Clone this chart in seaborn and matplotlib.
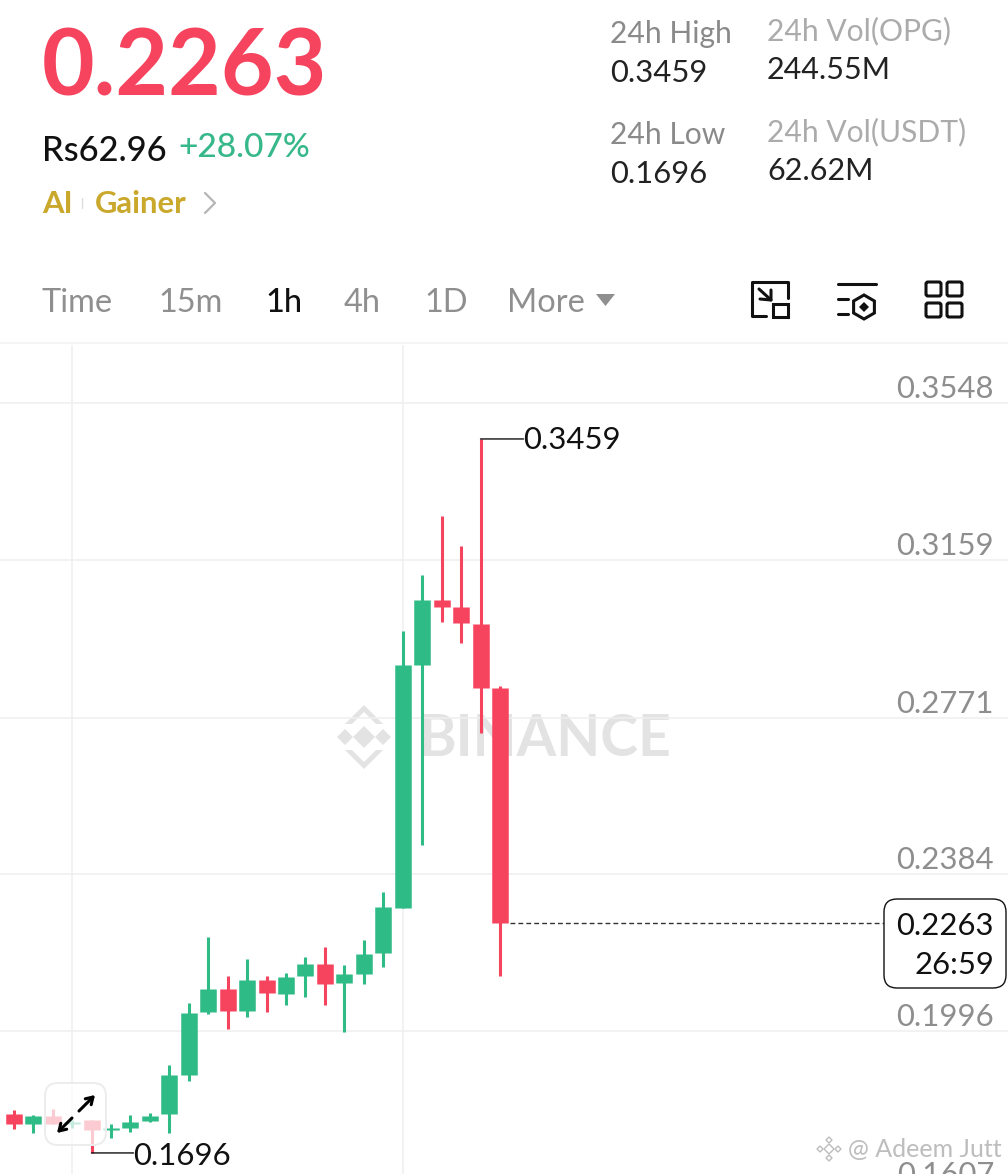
# -*- coding: utf-8 -*-
"""Velas de 1h OPG/USDT, captura de la app de Binance."""
import numpy as np
import pandas as pd
import matplotlib
matplotlib.use("Agg")
import matplotlib.pyplot as plt
from matplotlib.patches import FancyBboxPatch, Polygon, Rectangle
import seaborn as sns

# ======================= DATOS =======================
opens = [.1777, .1792, .1767, .1788, .1767, .1777, .1752, .1757, .1775, .1792, .1888, .2044, .2101,
         .2046, .2123, .2088, .2133, .2162, .2115, .2138, .2189, .2301, .2901, .3061, .3044, .3002, .2844]
closes = [.1792, .1767, .1788, .1767, .1773, .1752, .1757, .1773, .1788, .1888, .2041, .2101, .2046,
          .2123, .2091, .2130, .2162, .2113, .2138, .2187, .2303, .2901, .3061, .3044, .3005, .2844, .2263]
highs = [.1797, .1802, .1789, .1804, .1777, .1777, .1767, .1789, .1794, .1913, .2066, .2229, .2133,
         .2175, .2133, .2140, .2180, .2204, .2160, .2222, .2340, .2985, .3123, .3269, .3195, .3459, .2849]
lows = [.1772, .1755, .1745, .1767, .1757, .1696, .1733, .1747, .1772, .1745, .1873, .2039, .2002,
        .2031, .2044, .2061, .2081, .2061, .1994, .2113, .2155, .2301, .2456, .3007, .2955, .2733, .2133]
price_ticks = [0.3548, 0.3159, 0.2771, 0.2384, 0.1996, 0.1607]
time_ticks = [4, 21]
last_price = 0.2263
day_high = 0.3459
day_low = 0.1696

GREEN = "#2FBB86"
RED = "#F6435E"
GRID = "#EFEFEF"
W, H = 1008, 1174
FONT = "Lato"

sns.set_theme(style="white")
plt.rcParams["font.family"] = [FONT, "DejaVu Sans"]

fig = plt.figure(figsize=(W / 100, H / 100), dpi=100)

# capa de fondo (marca de agua) y capa superior, ambas en pixeles de la captura
bg = fig.add_axes([0, 0, 1, 1], zorder=0)
top = fig.add_axes([0, 0, 1, 1], zorder=2)
for a in (bg, top):
    a.set_xlim(0, W)
    a.set_ylim(H, 0)
    a.axis("off")
top.patch.set_alpha(0)

# zona del grafico: de y=345 a y=1174
ax = fig.add_axes([0, 0, 1, (H - 345) / H], zorder=1)
ax.patch.set_alpha(0)


def ui(x, y, s, size, color="#111111", weight="normal", ha="left", a=top):
    return a.text(x, y, s, fontsize=size * 0.72, color=color, fontweight=weight, ha=ha, va="center")


# ---------- velas ----------
df = pd.DataFrame({"open": opens, "close": closes, "high": highs, "low": lows})
df["idx"] = df.index
df["dir"] = np.where(df["close"] >= df["open"], "up", "down")
wicks = df.melt(id_vars=["idx", "dir"], value_vars=["low", "high"], value_name="price").sort_values(["idx", "variable"])
bodies = df.melt(id_vars=["idx", "dir"], value_vars=["open", "close"], value_name="price").sort_values(["idx", "variable"])
palette = {"up": GREEN, "down": RED}
sns.lineplot(data=wicks, x="idx", y="price", hue="dir", units="idx", estimator=None, sort=False,
             palette=palette, linewidth=2.2, solid_capstyle="butt", legend=False, ax=ax)
sns.lineplot(data=bodies, x="idx", y="price", hue="dir", units="idx", estimator=None, sort=False,
             palette=palette, linewidth=11.9, solid_capstyle="butt", legend=False, ax=ax)

px_per_candle = 19.45
xmin = 5.7 / px_per_candle
ax.set_yticks(price_ticks)
ax.set_xticks(time_ticks)
ax.set_xticklabels([])
ax.set_yticklabels([])
ax.set_xlim(xmin, xmin + W / px_per_candle)
ax.set_ylim(0.1644, 0.3691)
ax.set_xlabel("")
ax.set_ylabel("")
ax.grid(True, color=GRID, linewidth=1.1)
ax.set_axisbelow(True)
sns.despine(ax=ax, left=True, bottom=True, right=True, top=True)
ax.tick_params(length=0)

for t in price_ticks:
    ax.annotate(f"{t:.4f}", (1, t), xycoords=("axes fraction", "data"), xytext=(-14, 14),
                textcoords="offset pixels", ha="right", va="center", fontsize=22.4, color="#8E8E8E",
                annotation_clip=False)

# etiquetas de maximo y minimo, con su guia horizontal
hi_i = int(np.argmax(highs))
lo_i = int(np.argmin(lows))
for i, price, gap, dy in [(hi_i, day_high, 43, -1), (lo_i, day_low, 42, -3)]:
    ax.annotate("", (i, price), xytext=(gap, 0), textcoords="offset pixels",
                arrowprops=dict(arrowstyle="-", color="#111111", lw=1, shrinkA=0, shrinkB=0))
    ax.annotate(f"{price:.4f}", (i, price), xytext=(gap, dy), textcoords="offset pixels", ha="left",
                va="center", fontsize=22.4, color="#111111")

# linea del ultimo precio
ax.plot([len(closes) - 1 + 0.5, xmin + 884 / px_per_candle], [last_price, last_price], color="#333333", lw=1, ls=(0, (3.5, 2.2)))
top.add_patch(FancyBboxPatch((884, 899), 122, 89, boxstyle="round,pad=0,rounding_size=13", fc="white", ec="#111111", lw=1))
ui(994, 926, f"{last_price:.4f}", 31, ha="right")
ui(994, 965, "26:59", 31, ha="right")

# boton de expandir sobre las velas
top.add_patch(FancyBboxPatch((45, 1083), 61, 62, boxstyle="round,pad=0,rounding_size=13", fc=(1, 1, 1, 0.72), ec="#ECECEC", lw=1.4))
for tail, tip in [((79, 1111), (95, 1095)), ((72, 1118), (57, 1133))]:
    top.annotate("", xy=tip, xytext=tail, arrowprops=dict(arrowstyle="->,head_length=0.4,head_width=0.25", color="black", lw=2.2, shrinkA=0, shrinkB=0))

# ---------- marca de agua ----------
WM = "#E3E3E3"
ui(418, 740, "BINANCE", 57, color=WM, weight="bold", a=bg)
for cx, cy, r in [(364, 737, 11), (345, 737, 8), (383, 737, 8)]:
    bg.add_patch(Polygon([(cx - r, cy), (cx, cy - r), (cx + r, cy), (cx, cy + r)], fc=WM, ec="none"))
bg.add_patch(Polygon([(364, 705), (383, 724), (376, 724), (364, 712), (352, 724), (345, 724)], fc=WM, ec="none"))
bg.add_patch(Polygon([(364, 769), (383, 750), (376, 750), (364, 762), (352, 750), (345, 750)], fc=WM, ec="none"))

WM2 = "#BDBDBD"
for cx, cy, r in [(829, 1149, 5), (820, 1149, 3), (838, 1149, 3), (829, 1140, 3), (829, 1158, 3)]:
    top.add_patch(Polygon([(cx - r, cy), (cx, cy - r), (cx + r, cy), (cx, cy + r)], fc="none", ec=WM2, lw=1))
ui(848, 1150, "@ Adeem Jutt", 25, color=WM2)

# ---------- cabecera ----------
ui(42, 70, "0.2263", 91, color=RED, weight="bold")
ui(42, 151, "Rs62.96", 34.5, color="#111111", weight="medium")
ui(178, 148, "+28.07%", 33.5, color="#36B88A", weight="medium")
ui(42, 204, "AI", 31, color="#C9A82C", weight="bold")
top.plot([82, 82], [198, 208], color="#DDDDDD", lw=1)
ui(95, 204, "Gainer", 31, color="#C9A82C", weight="bold")
top.plot([205, 215, 205], [193, 203, 213], color="#B5B5B5", lw=1.6)

ui(610, 34, "24h High", 30, color="#8A8A8A")
ui(610, 73, "0.3459", 31, color="#222222")
ui(767, 31, "24h Vol(OPG)", 30, color="#ABABAB")
ui(767, 70, "244.55M", 30.5, color="#222222")
ui(610, 135, "24h Low", 30, color="#8A8A8A")
ui(610, 174, "0.1696", 31, color="#222222")
ui(767, 132, "24h Vol(USDT)", 30, color="#ABABAB")
ui(767, 171, "62.62M", 30.5, color="#222222")

# pestanas
for x, s in [(42, "Time"), (158, "15m"), (344, "4h"), (424, "1D"), (507, "More")]:
    ui(x, 303, s, 32.5, color="#8F8F8F")
ui(265, 303, "1h", 32.5, color="#111111", weight="medium")
top.add_patch(Polygon([(596, 294), (615, 294), (605.5, 306)], fc="#8F8F8F", ec="none"))
top.plot([0, W], [343, 343], color="#F2F2F2", lw=1.2)

# iconos
K = "#111111"
top.plot([766, 752, 752, 788, 788], [316, 316, 282, 282, 298], color=K, lw=2.2, solid_joinstyle="round")
top.add_patch(Rectangle((773, 304), 15, 13, fc="white", ec=K, lw=2.2))
top.plot([759, 771], [289, 300], color=K, lw=2.2)
top.plot([760, 771, 771], [299, 300, 290], color=K, lw=2.2)

top.plot([838, 876], [284, 284], color=K, lw=2.2)
top.plot([838, 848], [299, 299], color=K, lw=2.2)
top.plot([838, 848], [314, 314], color=K, lw=2.2)
angs = np.radians(np.arange(6) * 60 + 90)
top.add_patch(Polygon(np.c_[864 + 12 * np.cos(angs), 307 + 12 * np.sin(angs)], fc="none", ec=K, lw=2.2))
top.add_patch(Polygon([(859, 307), (864, 302), (869, 307), (864, 312)], fc=K, ec="none"))

for x0 in (926, 947):
    for y0 in (282, 303):
        top.add_patch(FancyBboxPatch((x0, y0), 15, 14, boxstyle="round,pad=0,rounding_size=2", fc="none", ec=K, lw=2.2))

fig.savefig("out.png", dpi=100, facecolor="white")
